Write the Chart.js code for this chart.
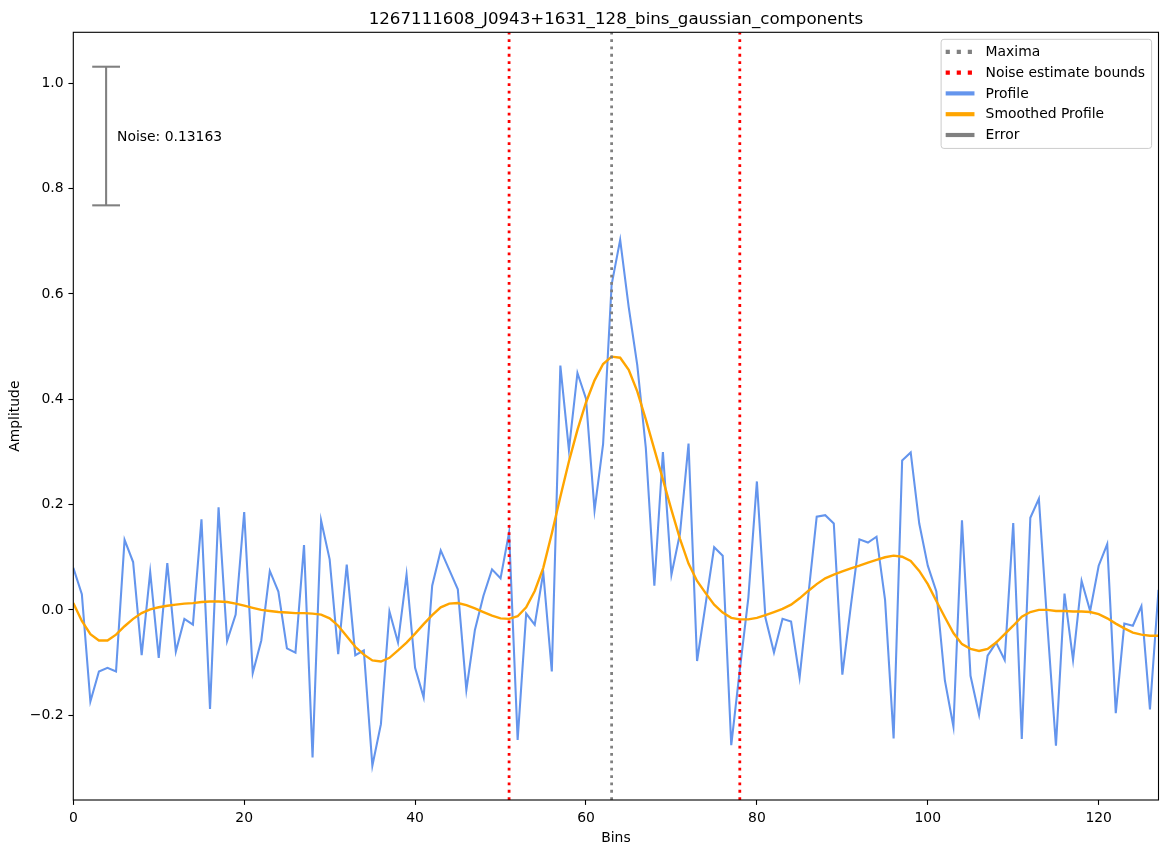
<!DOCTYPE html>
<html><head><meta charset="utf-8">
<script src="https://cdn.jsdelivr.net/npm/chart.js@4"></script>
<style>html,body{margin:0;padding:0;background:#fff;}canvas{display:block;}</style>
</head><body>
<canvas id="c" width="1167" height="855"></canvas>
<script>
// ---- data ----
const titleText = '1267111608_J0943+1631_128_bins_gaussian_components';
const xLabel = 'Bins';
const yLabel = 'Amplitude';
const profile = [
  0.080, 0.030, -0.174, -0.117, -0.110, -0.117, 0.133, 0.091, -0.086, 0.072,
  -0.091, 0.089, -0.079, -0.017, -0.028, 0.172, -0.188, 0.195, -0.059, -0.009,
  0.186, -0.120, -0.058, 0.074, 0.035, -0.073, -0.081, 0.123, -0.280, 0.170,
  0.096, -0.084, 0.086, -0.086, -0.077, -0.296, -0.217, -0.003, -0.062, 0.067,
  -0.110, -0.166, 0.046, 0.113, 0.076, 0.039, -0.152, -0.038, 0.027, 0.077,
  0.060, 0.147, -0.247, -0.007, -0.028, 0.071, -0.117, 0.464, 0.304, 0.450,
  0.401, 0.189, 0.315, 0.618, 0.703, 0.575, 0.465, 0.308, 0.046, 0.300,
  0.067, 0.145, 0.316, -0.097, 0.011, 0.119, 0.103, -0.257, -0.114, 0.023,
  0.244, -0.015, -0.081, -0.017, -0.022, -0.128, 0.025, 0.177, 0.180, 0.164,
  -0.123, 0.008, 0.134, 0.128, 0.139, 0.019, -0.244, 0.284, 0.299, 0.164,
  0.084, 0.035, -0.134, -0.222, 0.170, -0.125, -0.199, -0.087, -0.062, -0.095,
  0.165, -0.245, 0.175, 0.211, -0.030, -0.258, 0.031, -0.095, 0.055, -0.002,
  0.084, 0.125, -0.196, -0.026, -0.030, 0.007, -0.189, 0.038
];
const smoothed = [
  0.013, -0.021, -0.046, -0.058, -0.058, -0.047, -0.031, -0.017, -0.006, 0.001,
  0.005, 0.008, 0.010, 0.012, 0.013, 0.015, 0.016, 0.016, 0.015, 0.012,
  0.008, 0.004, 0.000, -0.002, -0.004, -0.005, -0.006, -0.006, -0.007, -0.009,
  -0.016, -0.030, -0.050, -0.070, -0.085, -0.096, -0.098, -0.091, -0.077, -0.062,
  -0.045, -0.027, -0.010, 0.005, 0.012, 0.013, 0.009, 0.003, -0.004, -0.011,
  -0.016, -0.017, -0.012, 0.005, 0.036, 0.080, 0.145, 0.215, 0.282, 0.342,
  0.394, 0.436, 0.467, 0.481, 0.479, 0.456, 0.415, 0.362, 0.305, 0.248,
  0.190, 0.135, 0.088, 0.055, 0.032, 0.010, -0.005, -0.015, -0.018, -0.018,
  -0.015, -0.010, -0.004, 0.002, 0.010, 0.022, 0.036, 0.049, 0.060, 0.067,
  0.073, 0.079, 0.084, 0.090, 0.095, 0.100, 0.103, 0.101, 0.093, 0.074,
  0.049, 0.017, -0.014, -0.044, -0.065, -0.074, -0.078, -0.074, -0.062, -0.046,
  -0.030, -0.013, -0.004, 0.000, 0.000, -0.002, -0.002, -0.003, -0.003, -0.004,
  -0.008, -0.016, -0.026, -0.035, -0.043, -0.047, -0.049, -0.049
];
const maximaBins = [63];
const noiseBoundBins = [51, 78];
const noiseValue = 0.13163;
const errorBarX = 3.84;
const errorBarY = 0.9;
const noiseTextX = 5.12;
const xTicks = [0, 20, 40, 60, 80, 100, 120];
const yTicks = [-0.2, 0.0, 0.2, 0.4, 0.6, 0.8, 1.0];
const xRange = [0, 127];
const yRange = [-0.361, 1.097];
const legendLabels = ['Maxima', 'Noise estimate bounds', 'Profile', 'Smoothed Profile', 'Error'];

// ---- styles ----
const FONT = '"DejaVu Sans", sans-serif';
const FS = 13.9;
const C_PROFILE = '#6495ED', C_SMOOTH = '#FFA500', C_GRAY = '#808080', C_RED = '#FF0000';

const toXY = arr => arr.map((v, i) => ({x: i, y: v}));
const vline = (x, color) => ({
  data: [{x: x, y: yRange[0]}, {x: x, y: yRange[1]}],
  borderColor: color, borderWidth: 2.78, borderDash: [2.78, 4.58], borderCapStyle: 'butt',
  pointRadius: 0, fill: false
});

const datasets = [];
maximaBins.forEach(b => datasets.push(vline(b, C_GRAY)));
noiseBoundBins.forEach(b => datasets.push(vline(b, C_RED)));
datasets.push({data: toXY(smoothed), borderColor: C_SMOOTH, borderWidth: 2.4, pointRadius: 0, fill: false});
datasets.push({data: toXY(profile), borderColor: C_PROFILE, borderWidth: 2.08, pointRadius: 0, fill: false});
datasets.push({data: [{x: errorBarX, y: errorBarY - noiseValue}, {x: errorBarX, y: errorBarY + noiseValue}],
  borderColor: C_GRAY, borderWidth: 2.08, pointRadius: 0, fill: false});
datasets.push({data: [{x: errorBarX, y: errorBarY - noiseValue}, {x: errorBarX, y: errorBarY + noiseValue}],
  showLine: false, pointStyle: 'line', pointRadius: 13.9, pointBorderWidth: 2.08,
  pointBorderColor: C_GRAY, pointBackgroundColor: C_GRAY, clip: false});

const legendItems = [
  {label: legendLabels[0], color: C_GRAY, dash: true},
  {label: legendLabels[1], color: C_RED, dash: true},
  {label: legendLabels[2], color: C_PROFILE, dash: false},
  {label: legendLabels[3], color: C_SMOOTH, dash: false},
  {label: legendLabels[4], color: C_GRAY, dash: false}
];

const decor = {
  id: 'decor',
  afterDatasetsDraw(chart) {
    const {ctx, chartArea: a} = chart;
    ctx.save();
    ctx.strokeStyle = '#000'; ctx.lineWidth = 1.1; ctx.setLineDash([]);
    ctx.strokeRect(a.left, a.top, a.right - a.left, a.bottom - a.top);
    ctx.restore();
  },
  afterDraw(chart) {
    const {ctx, chartArea: a, scales} = chart;
    ctx.save();
    // title
    ctx.fillStyle = '#000';
    ctx.font = `16.67px ${FONT}`;
    ctx.textAlign = 'center'; ctx.textBaseline = 'alphabetic';
    ctx.fillText(titleText, (a.left + a.right) / 2, a.top - 8.3);
    // noise text
    ctx.font = `${FS}px ${FONT}`;
    ctx.textAlign = 'left'; ctx.textBaseline = 'middle';
    ctx.fillText('Noise: ' + noiseValue.toFixed(5), scales.x.getPixelForValue(noiseTextX), scales.y.getPixelForValue(errorBarY) + 1);
    // legend
    const pad = 5.56, hl = 27.8, htp = 11.1, rowH = 20.8;
    let tw = 0;
    legendItems.forEach(it => { tw = Math.max(tw, ctx.measureText(it.label).width); });
    const w = pad + hl + htp + tw + pad + 1;
    const h = pad * 2 + rowH * legendItems.length - 6;
    const lx = a.right - 6.9 - w, ly = a.top + 7;
    const r = 2.8;
    ctx.beginPath();
    ctx.moveTo(lx + r, ly); ctx.lineTo(lx + w - r, ly); ctx.arcTo(lx + w, ly, lx + w, ly + r, r);
    ctx.lineTo(lx + w, ly + h - r); ctx.arcTo(lx + w, ly + h, lx + w - r, ly + h, r);
    ctx.lineTo(lx + r, ly + h); ctx.arcTo(lx, ly + h, lx, ly + h - r, r);
    ctx.lineTo(lx, ly + r); ctx.arcTo(lx, ly, lx + r, ly, r); ctx.closePath();
    ctx.fillStyle = 'rgba(255,255,255,0.8)'; ctx.fill();
    ctx.strokeStyle = '#cccccc'; ctx.lineWidth = 1; ctx.stroke();
    legendItems.forEach((it, k) => {
      const y = ly + 12.5 + k * rowH;
      ctx.beginPath();
      ctx.lineWidth = 4.17; ctx.lineCap = 'butt';
      ctx.setLineDash(it.dash ? [4.17, 6.88] : []);
      ctx.strokeStyle = it.color;
      ctx.moveTo(lx + pad - 1, y); ctx.lineTo(lx + pad + hl, y); ctx.stroke();
      ctx.setLineDash([]);
      ctx.fillStyle = '#000';
      ctx.fillText(it.label, lx + pad + hl + htp, y + 0.5);
    });
    ctx.restore();
  }
};

const fmtY = v => { const s = Number(v).toFixed(1); return s.startsWith('-') ? '\u2212' + s.slice(1) : s; };

new Chart(document.getElementById('c'), {
  type: 'line',
  data: {datasets},
  options: {
    responsive: false, animation: false, devicePixelRatio: 1,
    layout: {autoPadding: false, padding: {left: 0, top: 32.3, right: 8.5, bottom: 0}},
    plugins: {legend: {display: false}, tooltip: {enabled: false}, title: {display: false}},
    elements: {line: {tension: 0}},
    scales: {
      x: {
        type: 'linear', min: xRange[0], max: xRange[1], bounds: 'data', offset: false,
        afterBuildTicks: s => { s.ticks = xTicks.map(v => ({value: v})); },
        afterFit: s => { s.height = 55; s.paddingLeft = 0; s.paddingRight = 0; },
        border: {display: false},
        grid: {display: true, drawOnChartArea: false, drawTicks: true, tickLength: 4.9, tickWidth: 1.1, tickColor: '#000'},
        ticks: {color: '#000', font: {family: FONT, size: FS}, padding: 4.9, autoSkip: false, maxRotation: 0,
          callback: v => String(v)},
        title: {display: true, text: xLabel, color: '#000', font: {family: FONT, size: FS}, padding: {top: 0, bottom: 8.7}}
      },
      y: {
        type: 'linear', min: yRange[0], max: yRange[1], bounds: 'data',
        afterBuildTicks: s => { s.ticks = yTicks.map(v => ({value: v})); },
        afterFit: s => { s.width = 73.3; s.paddingTop = 0; s.paddingBottom = 0; },
        border: {display: false},
        grid: {display: true, drawOnChartArea: false, drawTicks: true, tickLength: 4.9, tickWidth: 1.1, tickColor: '#000'},
        ticks: {color: '#000', font: {family: FONT, size: FS}, padding: 4.9, callback: v => fmtY(v)},
        title: {display: true, text: yLabel, color: '#000', font: {family: FONT, size: FS}, padding: {top: 6.7, bottom: 0}}
      }
    }
  },
  plugins: [decor]
});
</script>
</body></html>
